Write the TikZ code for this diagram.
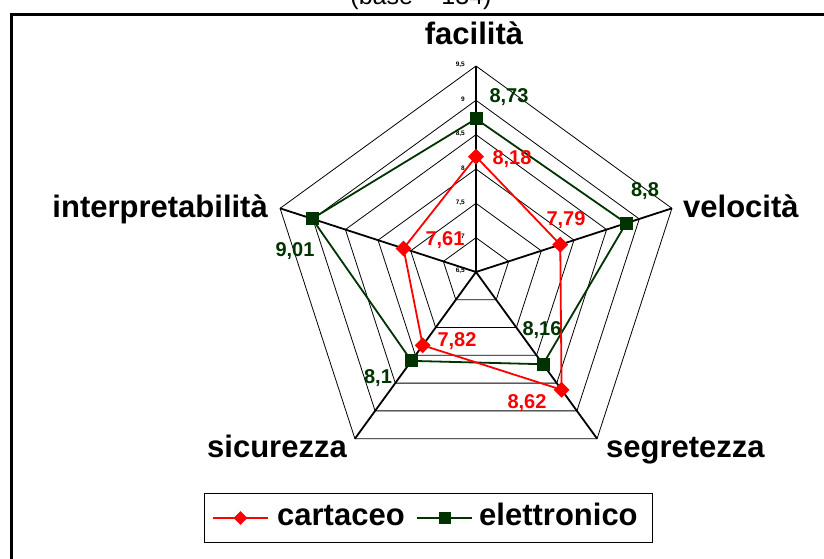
\documentclass[tikz,border=0pt]{standalone}
\usepackage{fontspec}
\setmainfont{Liberation Sans}
\usetikzlibrary{shapes.geometric}

\definecolor{rosso}{RGB}{255,0,0}
\definecolor{scuro}{RGB}{0,51,0}

\tikzset{
  asse/.style={font=\bfseries\fontsize{31}{37}\selectfont, inner sep=0pt},
  valore/.style={font=\bfseries\fontsize{20}{24}\selectfont, inner sep=0pt},
  tacca/.style={font=\bfseries\fontsize{6.5}{7}\selectfont, anchor=east, inner sep=0pt},
  rombo/.style={diamond, fill=rosso, inner sep=0pt, minimum size=16pt},
  quadro/.style={rectangle, fill=scuro, inner sep=0pt, minimum size=13pt},
  griglia/.style={line width=0.8pt},
  raggio/.style={line width=1.8pt},
}

\begin{document}
\begin{tikzpicture}[x=1pt,y=1pt]
    \useasboundingbox (0,0) rectangle (824,558);
    % cornice e titolo
    \draw[line width=3pt] (11.5,-10) rectangle (850,543.5);
    \node[font=\fontsize{25}{30}\selectfont, anchor=base, inner sep=0pt] (titolo) at (421,553) {(base = 134)};

    \begin{scope}[shift={(476,286)}]
        % anelli 7 ... 9,5
        \foreach \k in {1,...,6} {
            \draw[griglia] (90:{\k*206/6}) -- (18:{\k*206/6}) -- (-54:{\k*206/6})
                -- (-126:{\k*206/6}) -- (162:{\k*206/6}) -- cycle;
        }
        % assi
        \coordinate (centro) at (0,0);
        \foreach \a [count=\i] in {90,18,-54,-126,162} {
            \coordinate (v\i) at (\a:206);
            \draw[raggio] (centro) -- (v\i);
        }
        % scala
        \foreach \k/\t in {0/{6,5},1/7,2/{7,5},3/8,4/{8,5},5/9,6/{9,5}} {
            \node[tacca] (t\k) at (-11,{\k*206/6+1}) {\t};
        }

        % elettronico
        \foreach \a/\v [count=\i] in {90/8.73,18/8.8,-54/8.16,-126/8.1,162/9.01} {
            \coordinate (e\i) at (\a:{(\v-6.5)*206/3});
        }
        \draw[scuro, line width=1.8pt] (e1) -- (e2) -- (e3) -- (e4) -- (e5) -- cycle;
        \foreach \i in {1,...,5} {
            \node[quadro] (me\i) at (e\i) {};
        }

        % cartaceo
        \foreach \a/\v [count=\i] in {90/8.18,18/7.79,-54/8.62,-126/7.82,162/7.61} {
            \coordinate (c\i) at (\a:{(\v-6.5)*206/3});
        }
        \draw[rosso, line width=1.8pt] (c1) -- (c2) -- (c3) -- (c4) -- (c5) -- cycle;
        \foreach \i in {1,...,5} {
            \node[rombo] (mc\i) at (c\i) {};
        }

        % valori
        \node[valore, scuro] (le1) at (33,175) {8,73};
        \node[valore, scuro] (le2) at (169,81) {8,8};
        \node[valore, scuro] (le3) at (66,-58) {8,16};
        \node[valore, scuro] (le4) at (-98,-106) {8,1};
        \node[valore, scuro] (le5) at (-181,21) {9,01};
        \node[valore, rosso] (lc1) at (36,113) {8,18};
        \node[valore, rosso] (lc2) at (90,52) {7,79};
        \node[valore, rosso] (lc3) at (51,-131) {8,62};
        \node[valore, rosso] (lc4) at (-19,-69) {7,82};
        \node[valore, rosso] (lc5) at (-31,32) {7,61};

        % etichette assi
        \node[asse, anchor=base] (facilita) at (-2,227) {facilità};
        \node[asse, anchor=base west] (velocita) at (207,55) {velocità};
        \node[asse, anchor=base west] (segretezza) at (130,-185) {segretezza};
        \node[asse, anchor=base west] (sicurezza) at (-269,-185) {sicurezza};
        \node[asse, anchor=base east] (interpretabilita) at (-208,55) {interpretabilità};
    \end{scope}

    % legenda
    \draw[line width=1pt] (204,16) rectangle (652,65);
    \coordinate (r1) at (213,40);
    \coordinate (r2) at (268,40);
    \draw[rosso, line width=1.3pt] (r1) -- (r2);
    \node[rombo, minimum size=14pt] (lr) at (240.5,40) {};
    \node[asse, anchor=base west] (cartaceo) at (277,33) {cartaceo};
    \coordinate (s1) at (417,40);
    \coordinate (s2) at (472,40);
    \draw[scuro, line width=1.3pt] (s1) -- (s2);
    \node[quadro, minimum size=12pt] (ls) at (444.5,40) {};
    \node[asse, anchor=base west] (elettronico) at (479,33) {elettronico};
\end{tikzpicture}
\end{document}
